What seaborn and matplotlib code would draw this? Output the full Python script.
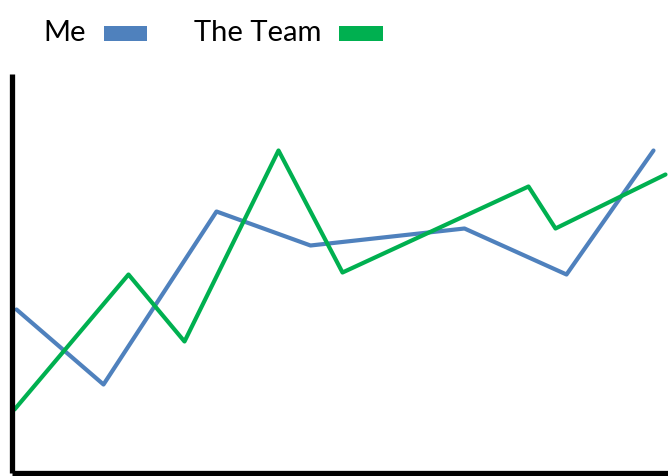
import pandas as pd
import seaborn as sns
import matplotlib.pyplot as plt
from matplotlib.patches import Patch, Rectangle
from matplotlib.legend_handler import HandlerPatch

# valores (unidades arbitrárias)
me_x = [4, 91, 204, 298, 452, 554, 641]
me_y = [163, 88, 261, 227, 244, 198, 322]
team_x = [2, 116, 172, 266, 330, 516, 543, 653]
team_y = [63, 198, 131, 322, 200, 286, 244, 298]

dados = pd.concat([
    pd.DataFrame({'x': me_x, 'y': me_y, 'serie': 'Me'}),
    pd.DataFrame({'x': team_x, 'y': team_y, 'serie': 'The Team'}),
])

sns.set_style("white")
plt.rcParams['font.family'] = ['Lato', 'DejaVu Sans']
plt.rcParams['text.color'] = 'black'

cores = {'Me': '#4F81BD', 'The Team': '#00B050'}

fig = plt.figure(figsize=(6.68, 4.77), dpi=100)
ax = fig.add_axes([12.5 / 668, (477 - 473.5) / 477, 1 - 12.5 / 668, (473.5 - 75) / 477])

sns.lineplot(data=dados, x='x', y='y', hue='serie', palette=cores,
             linewidth=3.0, ax=ax, legend=False, sort=False, estimator=None)

ax.set_xlim(0, 655.5)
ax.set_ylim(0, 398.5)
ax.set_xticks([])
ax.set_yticks([])
ax.set_xlabel('')
ax.set_ylabel('')
for lado in ['top', 'right']:
    ax.spines[lado].set_visible(False)
for lado in ['left', 'bottom']:
    ax.spines[lado].set_color('black')
    ax.spines[lado].set_linewidth(3.8)
    ax.spines[lado].set_capstyle('butt')


# marcador da legenda um pouco abaixo do centro do texto
def barra(legend, orig_handle, xdescent, ydescent, width, height, fontsize):
    return Rectangle((-xdescent, -ydescent - 0.25 * height), width, height)


alcas = [Patch(facecolor=cores[s], edgecolor='none', label=s) for s in cores]
fig.legend(handles=alcas, loc='upper left', bbox_to_anchor=(43 / 668, 1 - 20 / 477),
           ncol=2, frameon=False, markerfirst=False, fontsize=21,
           handlelength=1.5, handleheight=0.45, handletextpad=0.62,
           columnspacing=1.6, borderpad=0, borderaxespad=0,
           handler_map={Patch: HandlerPatch(patch_func=barra)})

plt.savefig('out.png', dpi=100)
